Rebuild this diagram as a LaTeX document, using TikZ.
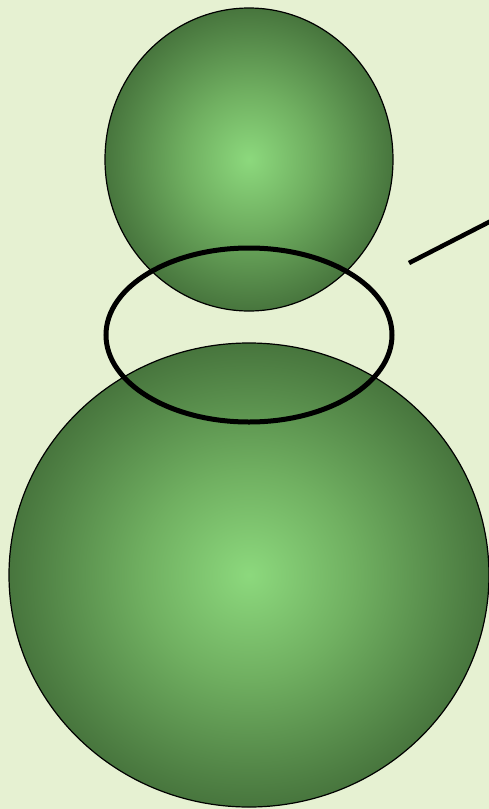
\documentclass[tikz,border=0pt]{standalone}
\usetikzlibrary{shadings}
\definecolor{bgc}{RGB}{230,241,210}
\pgfdeclareradialshading{ballshade}{\pgfpoint{0bp}{0bp}}{rgb(0bp)=(0.55,0.85,0.49); rgb(11bp)=(0.44,0.69,0.38); rgb(25bp)=(0.28,0.46,0.24); rgb(50bp)=(0.28,0.46,0.24)}
\tikzset{ball/.style={shading=ballshade, draw=black, line width=1.2pt},
  ring/.style={draw=black, line width=5pt},
  stick/.style={draw=black, line width=4.5pt}}
\begin{document}
\begin{tikzpicture}[x=1pt,y=-1pt]
\useasboundingbox (0,0) rectangle (489,809);
\clip (0,0) rectangle (489,809);
\fill[bgc] (0,0) rectangle (489,809);
\path[ball] (249,159.5) ellipse [x radius=144, y radius=151.5];
\path[ball] (249,575) ellipse [x radius=240, y radius=232];
\draw[ring] (249,335) ellipse [x radius=143, y radius=87];
\coordinate (s1) at (409,263);
\coordinate (s2) at (495,219);
\draw[stick] (s1) -- (s2);
\end{tikzpicture}
\end{document}
